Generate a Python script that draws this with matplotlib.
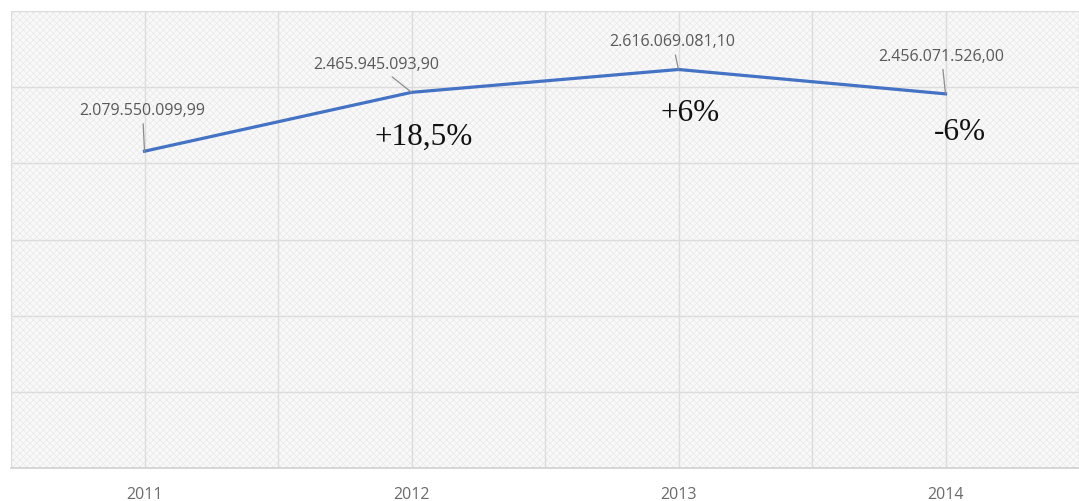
import numpy as np
import matplotlib.pyplot as plt
from matplotlib.patches import Rectangle

# Datos
years  = ['2011', '2012', '2013', '2014']
values = [2079550099.99, 2465945093.90, 2616069081.10, 2456071526.00]
labels = ['2.079.550.099,99', '2.465.945.093,90', '2.616.069.081,10', '2.456.071.526,00']
growth = ['', '+18,5%', '+6%', '-6%']

# offsets (pixels) de etiquetas y porcentajes
lbl_off = [(-2, 41), (-35, 28), (-6, 28), (-4, 38)]
pct_off = [(0, 0), (12, -44), (12, -43), (14, -38)]

plt.rcParams['hatch.linewidth'] = 0.5

fig = plt.figure(figsize=(10.79, 5.02), dpi=100)
ax = fig.add_axes([11/1079, 1 - 469/502, 1 - 11/1079, (469 - 12)/502])

x = np.arange(len(years))
ax.set_xlim(-0.5, 3.46)
ax.set_ylim(0, 3e9)

# fondo rayado
bg = Rectangle((0, 0), 1, 1, transform=ax.transAxes, facecolor='#f9f9f9',
               edgecolor='#e9e9e9', hatch='xxxxx', linewidth=0, zorder=0)
ax.add_patch(bg)
ax.patch.set_visible(False)

# grilla
ax.set_yticks(np.arange(0, 3.01e9, 0.5e9))
ax.set_xticks(x)
ax.set_xticks(np.arange(-0.5, 3.6, 1.0), minor=True)
ax.grid(True, which='both', color='#dcdcdc', linewidth=1.0, zorder=1)
ax.set_axisbelow(True)

ax.plot(x, values, color='#4472C4', linewidth=2.3, zorder=3, solid_joinstyle='miter')

for i in range(len(years)):
    ax.annotate(labels[i], xy=(x[i], values[i]), xytext=lbl_off[i], textcoords='offset pixels',
                ha='center', va='center', fontsize=11.5, family='Open Sans', color='#595959',
                arrowprops=dict(arrowstyle='-', color='#8c8c8c', lw=0.9, shrinkA=2, shrinkB=0),
                zorder=4)
    if growth[i]:
        ax.annotate(growth[i], xy=(x[i], values[i]), xytext=pct_off[i], textcoords='offset pixels',
                    ha='center', va='center', fontsize=22.5, family='Liberation Serif',
                    color='#111111', zorder=4)

ax.set_xticklabels(years, fontsize=11.5, family='Open Sans', color='#6b6b6b')
ax.tick_params(axis='x', which='both', length=0, pad=13)
ax.tick_params(axis='y', which='both', length=0, labelleft=False)
for s in ['top', 'right', 'left']:
    ax.spines[s].set_visible(False)
ax.spines['bottom'].set_color('#d0d0d0')
ax.spines['bottom'].set_linewidth(1.2)

fig.savefig('out.png', dpi=100)
